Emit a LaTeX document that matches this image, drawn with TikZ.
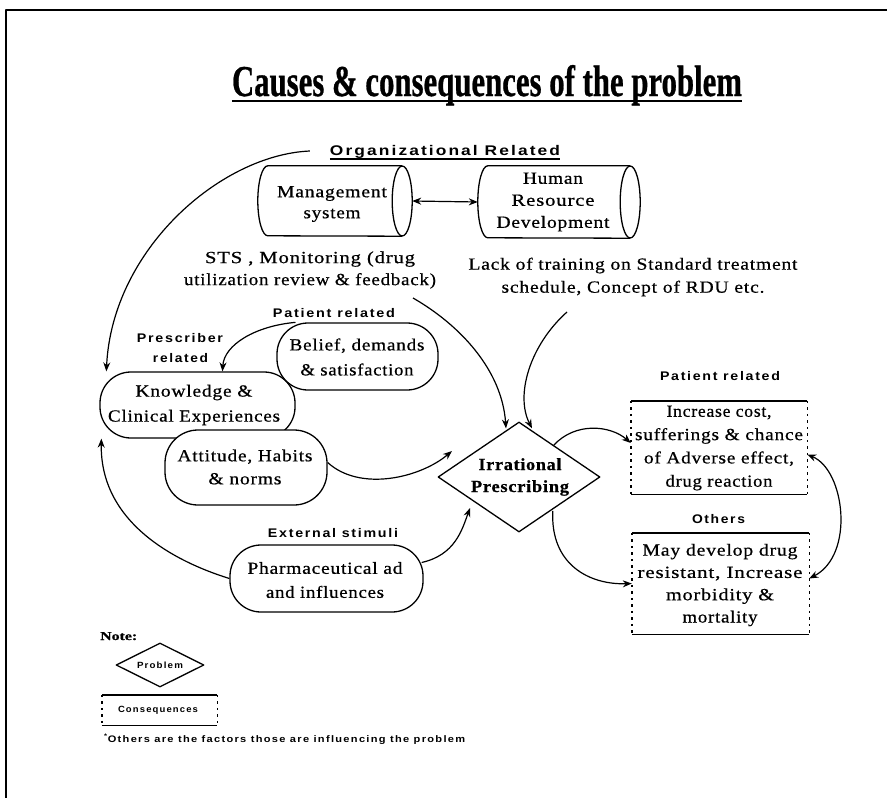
\documentclass[tikz,border=0pt]{standalone}
\usepackage{fontspec}
\usepackage{graphicx}
\setmainfont{Liberation Serif}
\newfontfamily\bodyface{Liberation Serif}[LetterSpace=4,FakeBold=0.6]
\newfontfamily\tagface{Liberation Sans}[LetterSpace=12]
\newfontfamily\titleface{Liberation Serif}[FakeBold=0.8]
\usetikzlibrary{shapes.geometric,arrows.meta}
% set a line of text to a fixed width
\newcommand\fw[2]{\resizebox{#1pt}{\height}{#2}}
\newcommand\bodysize[1]{\bodyface\fontsize{17}{#1}\selectfont}

\begin{document}
\begin{tikzpicture}[x=1pt,y=-1pt,line join=round,
  rule/.style={line width=1.7pt},
  tipA/.tip={Stealth[length=9pt,width=7pt]},
  conn/.style={line width=1.2pt,-tipA},
  both/.style={line width=1.2pt,tipA-tipA},
  bubble/.style={draw,line width=1.3pt,fill=white,rectangle,inner sep=0pt},
  drumline/.style={line width=1.3pt},
  gem/.style={diamond,draw,line width=1.3pt,fill=white,inner sep=0pt},
  txt/.style={inner sep=0pt,align=center},
  tag/.style={inner sep=0pt,anchor=base,font=\tagface\bfseries\fontsize{12.5}{14}\selectfont},
  ghost/.style={rectangle,inner sep=0pt},
  solidedge/.style={line width=1.4pt},
  dotedge/.style={line width=1.4pt,dash pattern=on 2.5pt off 4pt}]

\useasboundingbox (0,0) rectangle (887,798);

% page frame
\coordinate (fBL) at (6,798);
\coordinate (fTL) at (6,10);
\coordinate (fTR) at (887,10);
\draw[rule] (fBL) -- (fTL) -- (fTR);

% title
\node[inner sep=0pt,anchor=base] (title) at (487,96)
  {\fw{510}{\titleface\bfseries\fontsize{44}{50}\selectfont Causes \& consequences of the problem}};
\draw[line width=1.6pt] ([yshift=-5pt]title.base west) -- ([yshift=-5pt]title.base east);

% organizational group
\node[tag,font=\tagface\bfseries\fontsize{14}{16}\selectfont] (orgl) at (445,155) {\fw{230}{Organizational Related}};
\draw[line width=1.3pt] ([yshift=-4pt]orgl.base west) -- ([yshift=-4pt]orgl.base east);

% two horizontal drums: back end as a half ellipse, front end as a full ellipse
\node[ghost,minimum width=154pt,minimum height=70pt] (mgmt) at (335,201) {};
\node[ghost,minimum width=162pt,minimum height=72pt] (hrd) at (559,202) {};
\foreach \d/\ry in {mgmt/35,hrd/36} {
  \draw[drumline] ([xshift=-10pt]\d.north east) -- ([xshift=10pt]\d.north west)
    arc[start angle=90,end angle=270,x radius=10pt,y radius=\ry pt]
    -- ([xshift=-10pt]\d.south east);
  \draw[drumline] ([xshift=-10pt]\d.east) ellipse[x radius=10pt,y radius=\ry pt];
}
\node[txt,font=\bodysize{21}] (mgmtT) at (332,204) {\fw{110}{Management}\\\fw{57}{system}};
\node[txt,font=\bodysize{22}] (hrdT) at (553,202) {\fw{60}{Human}\\\fw{83}{Resource}\\\fw{113}{Development}};
\draw[both] (mgmt.east) -- (hrd.west);

\node[txt,font=\bodysize{22}] (sts) at (310,270) {\fw{210}{STS , Monitoring (drug}\\\fw{252}{utilization review \& feedback)}};
\node[txt,font=\bodysize{23}] (lack) at (633,277) {\fw{329}{Lack of training on Standard treatment}\\\fw{263}{schedule, Concept of RDU etc.}};

% causes on the left
\node[tag] (patm) at (334,317) {\fw{122}{Patient related}};
\node[tag] (presc) at (180,342) {\fw{86}{Prescriber}};
\node[tag] (prescb) at (180.5,362) {\fw{55}{related}};

\node[bubble,rounded corners=31pt,minimum width=195pt,minimum height=66pt] (know) at (197.5,405) {};
\node[bubble,rounded corners=31pt,minimum width=161pt,minimum height=67pt] (belief) at (357.5,356.5) {};
\node[bubble,rounded corners=33pt,minimum width=162pt,minimum height=75pt] (att) at (246,467.5) {};
\node[bubble,rounded corners=31pt,minimum width=193pt,minimum height=67pt] (pharma) at (326.5,578.5) {};

\node[txt,font=\bodysize{25}] (knowT) at (194,405) {\fw{117}{Knowledge \&}\\\fw{172}{Clinical Experiences}};
\node[txt,font=\bodysize{25}] (beliefT) at (357,357) {\fw{135}{Belief, demands}\\\fw{113}{\& satisfaction}};
\node[txt,font=\bodysize{23}] (attT) at (245,467) {\fw{135}{Attitude, Habits}\\\fw{73}{\& norms}};
\node[tag] (ext) at (333,537) {\fw{130}{External stimuli}};
\node[txt,font=\bodysize{24}] (pharmaT) at (325,580) {\fw{155}{Pharmaceutical ad}\\\fw{118}{and influences}};

% the problem
\node[gem,minimum width=162pt,minimum height=110pt] (irp) at (519,477) {};
\node[txt,font=\bodyface\bfseries\fontsize{17}{22}\selectfont] (irpT) at (520,477) {\fw{83}{Irrational}\\\fw{98}{Prescribing}};

% consequences
\node[tag] (patr) at (720,380) {\fw{120}{Patient related}};
\node[ghost,minimum width=176pt,minimum height=93pt] (cons1) at (719,447.5) {};
\node[txt,font=\bodysize{23.3}] (cons1T) at (719,448) {\fw{105}{Increase cost,}\\\fw{168}{sufferings \& chance}\\\fw{150}{of Adverse effect,}\\\fw{107}{drug reaction}};
\node[tag] (oth) at (718.5,523) {\fw{53}{Others}};
\node[ghost,minimum width=177pt,minimum height=101pt] (cons2) at (720.5,583.5) {};
\node[txt,font=\bodysize{22.3}] (cons2T) at (720,585) {\fw{155}{May develop drug}\\\fw{165}{resistant, Increase}\\\fw{108}{morbidity \&}\\\fw{75}{mortality}};

% legend
\node[inner sep=0pt,anchor=base west,font=\titleface\bfseries\fontsize{12}{14}\selectfont] (note) at (100,640) {\fw{37}{Note:}};
\node[gem,minimum width=88pt,minimum height=44pt] (keyp) at (160,665) {};
\node[inner sep=0pt,font=\tagface\bfseries\fontsize{9}{10}\selectfont] (keypT) at (160,665) {\fw{46}{Problem}};
\node[ghost,minimum width=115pt,minimum height=30pt] (keyc) at (159.5,710) {};
\node[inner sep=0pt,font=\tagface\bfseries\fontsize{9}{10}\selectfont] (keycT) at (158,710) {\fw{80}{Consequences}};
\node[inner sep=0pt,anchor=base west,font=\tagface\bfseries\fontsize{9.5}{11}\selectfont] (foot) at (104,742)
  {\fw{361}{\textsuperscript{*}Others are the factors those are influencing the problem}};

% half-dashed consequence boxes
\foreach \b in {cons1,cons2,keyc} {
  \draw[solidedge] (\b.north west) -- (\b.north east);
  \draw[solidedge] (\b.south west) -- (\b.south east);
  \draw[dotedge] (\b.north west) -- (\b.south west);
  \draw[dotedge] (\b.north east) -- (\b.south east);
}

% free arrow ends
\coordinate (attTip) at (452,451);
\coordinate (pharmaTip) at (470,508);

% connectors
\draw[conn] ([xshift=-20pt,yshift=4pt]orgl.base west) .. controls (220,155) and (112,250) .. ([xshift=7pt]know.north west);
\draw[conn] ([xshift=-62pt]belief.north) .. controls (255,326) and (224,345) .. ([xshift=25pt]know.north);
\draw[conn] ([xshift=103pt,yshift=-28pt]sts.center) .. controls (460,325) and (502,370) .. ([xshift=-13pt,yshift=-7pt]irp.north);
\draw[conn] ([xshift=-66pt,yshift=-35pt]lack.center) .. controls (530,345) and (515,395) .. ([xshift=13pt,yshift=-7pt]irp.north);
\draw[conn] ([yshift=5pt]att.east) .. controls (360,492) and (420,478) .. (attTip);
\draw[conn] ([xshift=-2pt,yshift=16pt]pharma.east) .. controls (455,555) and (462,530) .. (pharmaTip);
\draw[conn] (pharma.west) .. controls (170,560) and (100,520) .. ([xshift=2pt]know.south west);
\draw[conn] ([xshift=-6pt,yshift=4pt]irp.north east) .. controls (575,422) and (610,425) .. ([yshift=4.5pt]cons1.west);
\draw[conn] ([xshift=-7pt,yshift=-6pt]irp.south east) .. controls (550,565) and (590,585) .. (cons2.west);
\draw[both] ([yshift=-7pt]cons1.east) .. controls (845,470) and (855,555) .. ([yshift=5pt]cons2.east);
\end{tikzpicture}
\end{document}
